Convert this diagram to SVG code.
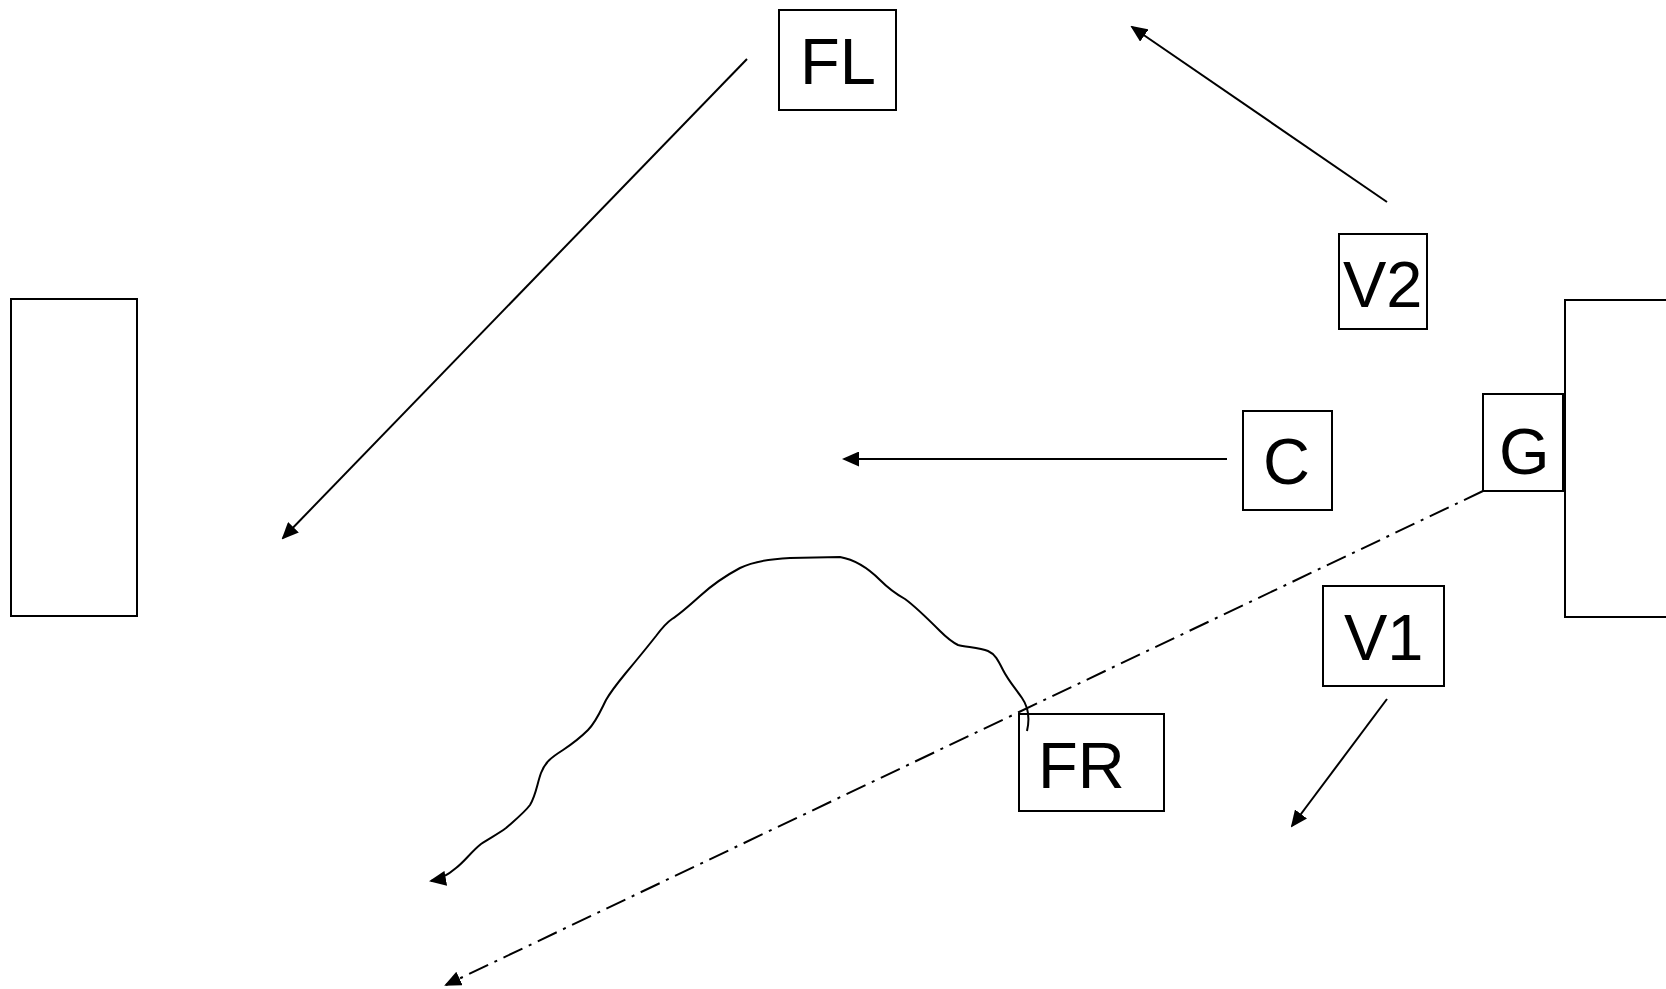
<svg xmlns="http://www.w3.org/2000/svg" width="1666" height="989" viewBox="0 0 1666 989">
<style>
.box{fill:#fff;stroke:#000;stroke-width:2}
.lbl{font-family:"Liberation Sans",Arial,sans-serif;font-size:65px;fill:#000}
.con{fill:none;stroke:#000;stroke-width:2;marker-end:url(#ah)}
.dd{stroke-dasharray:21 7 3 7}
</style>
<defs>
<marker id="ah" markerUnits="userSpaceOnUse" markerWidth="17" markerHeight="15" viewBox="0 0 17 15" refX="15" refY="7.5" orient="auto">
<path d="M0,0 L17,7.5 L0,15 z" fill="#000"/>
</marker>
</defs>
<rect width="1666" height="989" fill="#fff"/>
<g id="left-block"><rect class="box" x="11" y="299" width="126" height="317"/></g>
<g id="right-block"><rect class="box" x="1565" y="300" width="200" height="317"/></g>
<g id="FL"><rect class="box" x="779" y="10" width="117" height="100"/><text class="lbl" x="800" y="84">FL</text></g>
<g id="V2"><rect class="box" x="1339" y="234" width="88" height="95"/><text class="lbl" x="1343" y="307">V2</text></g>
<g id="C"><rect class="box" x="1243" y="411" width="89" height="99"/><text class="lbl" x="1263" y="484">C</text></g>
<g id="G"><rect class="box" x="1483" y="394" width="80" height="97"/><text class="lbl" x="1499" y="474">G</text></g>
<g id="V1"><rect class="box" x="1323" y="586" width="121" height="100"/><text class="lbl" x="1344" y="660">V1</text></g>
<g id="FR"><rect class="box" x="1019" y="714" width="145" height="97"/><text class="lbl" x="1038" y="788">FR</text></g>
<g id="connectors">
<path class="con" d="M747,59 L283,538"/>
<path class="con" d="M1387,202 L1132,27"/>
<path class="con" d="M1227,459 L844,459"/>
<path class="con" d="M1387,699 L1292,826"/>
<path class="con dd" d="M1483,491 L446,985"/>
<path class="con" stroke-linejoin="round" d="M1027,731 C1030,718 1029,708 1022,698 C1015,688 1008,680 1003,670 C998,660 995,654 988,651 C980,648 966,647 958,645 C952,642 946,637 940,631 C928,619 916,607 905,599 C896,594 888,588 880,580 C870,570 857,560 840,557 L790,558 C770,559 752,562 740,568 C725,576 712,585 700,596 C690,605 680,614 672,619 C666,623 662,628 656,636 C645,650 635,662 625,674 C616,685 610,693 606,700 C600,712 596,722 588,730 C580,738 572,744 563,750 C552,757 545,762 541,773 C537,784 536,795 530,805 C524,813 515,820 506,828 C498,834 490,838 481,844 C471,852 465,861 456,868 C449,874 442,879 431,881"/>
</g>
</svg>
